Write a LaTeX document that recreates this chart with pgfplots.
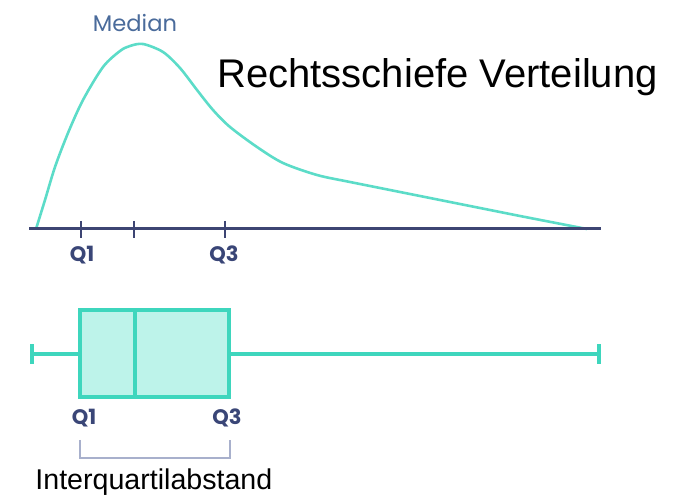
\documentclass[border=0pt]{standalone}
\usepackage{fontspec}
\setmainfont{Liberation Sans}
\newfontfamily\geo{Poppins}
\usepackage{pgfplots}
\pgfplotsset{compat=1.18}
\usepgfplotslibrary{statistics}
\definecolor{curveteal}{HTML}{5CDCC8}
\definecolor{boxteal}{HTML}{3ED6BD}
\definecolor{boxfill}{HTML}{BDF3EA}
\definecolor{navy}{HTML}{3D4573}
\definecolor{medblue}{HTML}{4A6B9B}
\definecolor{qnavy}{HTML}{3A4677}
\definecolor{bracket}{HTML}{A8B0CC}

\begin{document}
\begin{tikzpicture}
\begin{axis}[
    scale only axis,
    width=340pt, height=246.5pt,
    xmin=0, xmax=680, ymin=-493, ymax=0,
    hide axis, clip=false,
]
\path (rel axis cs:0,0) rectangle (rel axis cs:1,1);

% right-skewed density
\addplot[curveteal, line width=1.3pt, smooth, tension=0.5] coordinates {
  (36,-229) (45,-200) (55,-167) (68,-133) (83,-100) (103,-67) (120,-51)
  (130,-46) (143,-44) (163,-52) (180,-68) (197,-90) (213,-110) (230,-127)
  (257,-147) (283,-163) (317,-175) (350,-182) (400,-192) (460,-204)
  (520,-216) (587,-229)
};

% base line and ticks
\addplot[navy, line width=1.5pt] coordinates {(29,-229) (601,-229)};
\addplot[navy, line width=1.2pt] coordinates {(81,-221) (81,-238)};
\addplot[navy, line width=1.2pt] coordinates {(134,-221) (134,-238)};
\addplot[navy, line width=1.2pt] coordinates {(225,-221) (225,-238)};

% box plot
\addplot[boxteal, line width=2pt, fill=boxfill,
  boxplot prepared={
    lower whisker=32, lower quartile=80, median=135,
    upper quartile=229, upper whisker=599,
    draw position=-354, box extend=87, whisker extend=20,
  }] coordinates {};

% bracket
\addplot[bracket, line width=1pt] coordinates {(80,-440) (80,-458) (230,-458) (230,-440)};

\node[text=medblue, font=\geo\fontsize{11.3}{13}\selectfont] at (axis cs:135,-23) {Median};
\node[anchor=base west, inner sep=0pt, font=\fontsize{20}{24}\selectfont] at (axis cs:217,-88) {Rechtsschiefe Verteilung};
\node[text=qnavy, font=\geo\bfseries\fontsize{10.5}{12}\selectfont] at (axis cs:82,-255) {Q1};
\node[text=qnavy, font=\geo\bfseries\fontsize{10.5}{12}\selectfont] at (axis cs:224,-255) {Q3};
\node[text=qnavy, font=\geo\bfseries\fontsize{10.5}{12}\selectfont] at (axis cs:84,-418) {Q1};
\node[text=qnavy, font=\geo\bfseries\fontsize{10.5}{12}\selectfont] at (axis cs:227,-418) {Q3};
\node[anchor=base west, inner sep=0pt, font=\fontsize{14.3}{17}\selectfont] at (axis cs:35,-490) {Interquartilabstand};
\end{axis}
\end{tikzpicture}
\end{document}
